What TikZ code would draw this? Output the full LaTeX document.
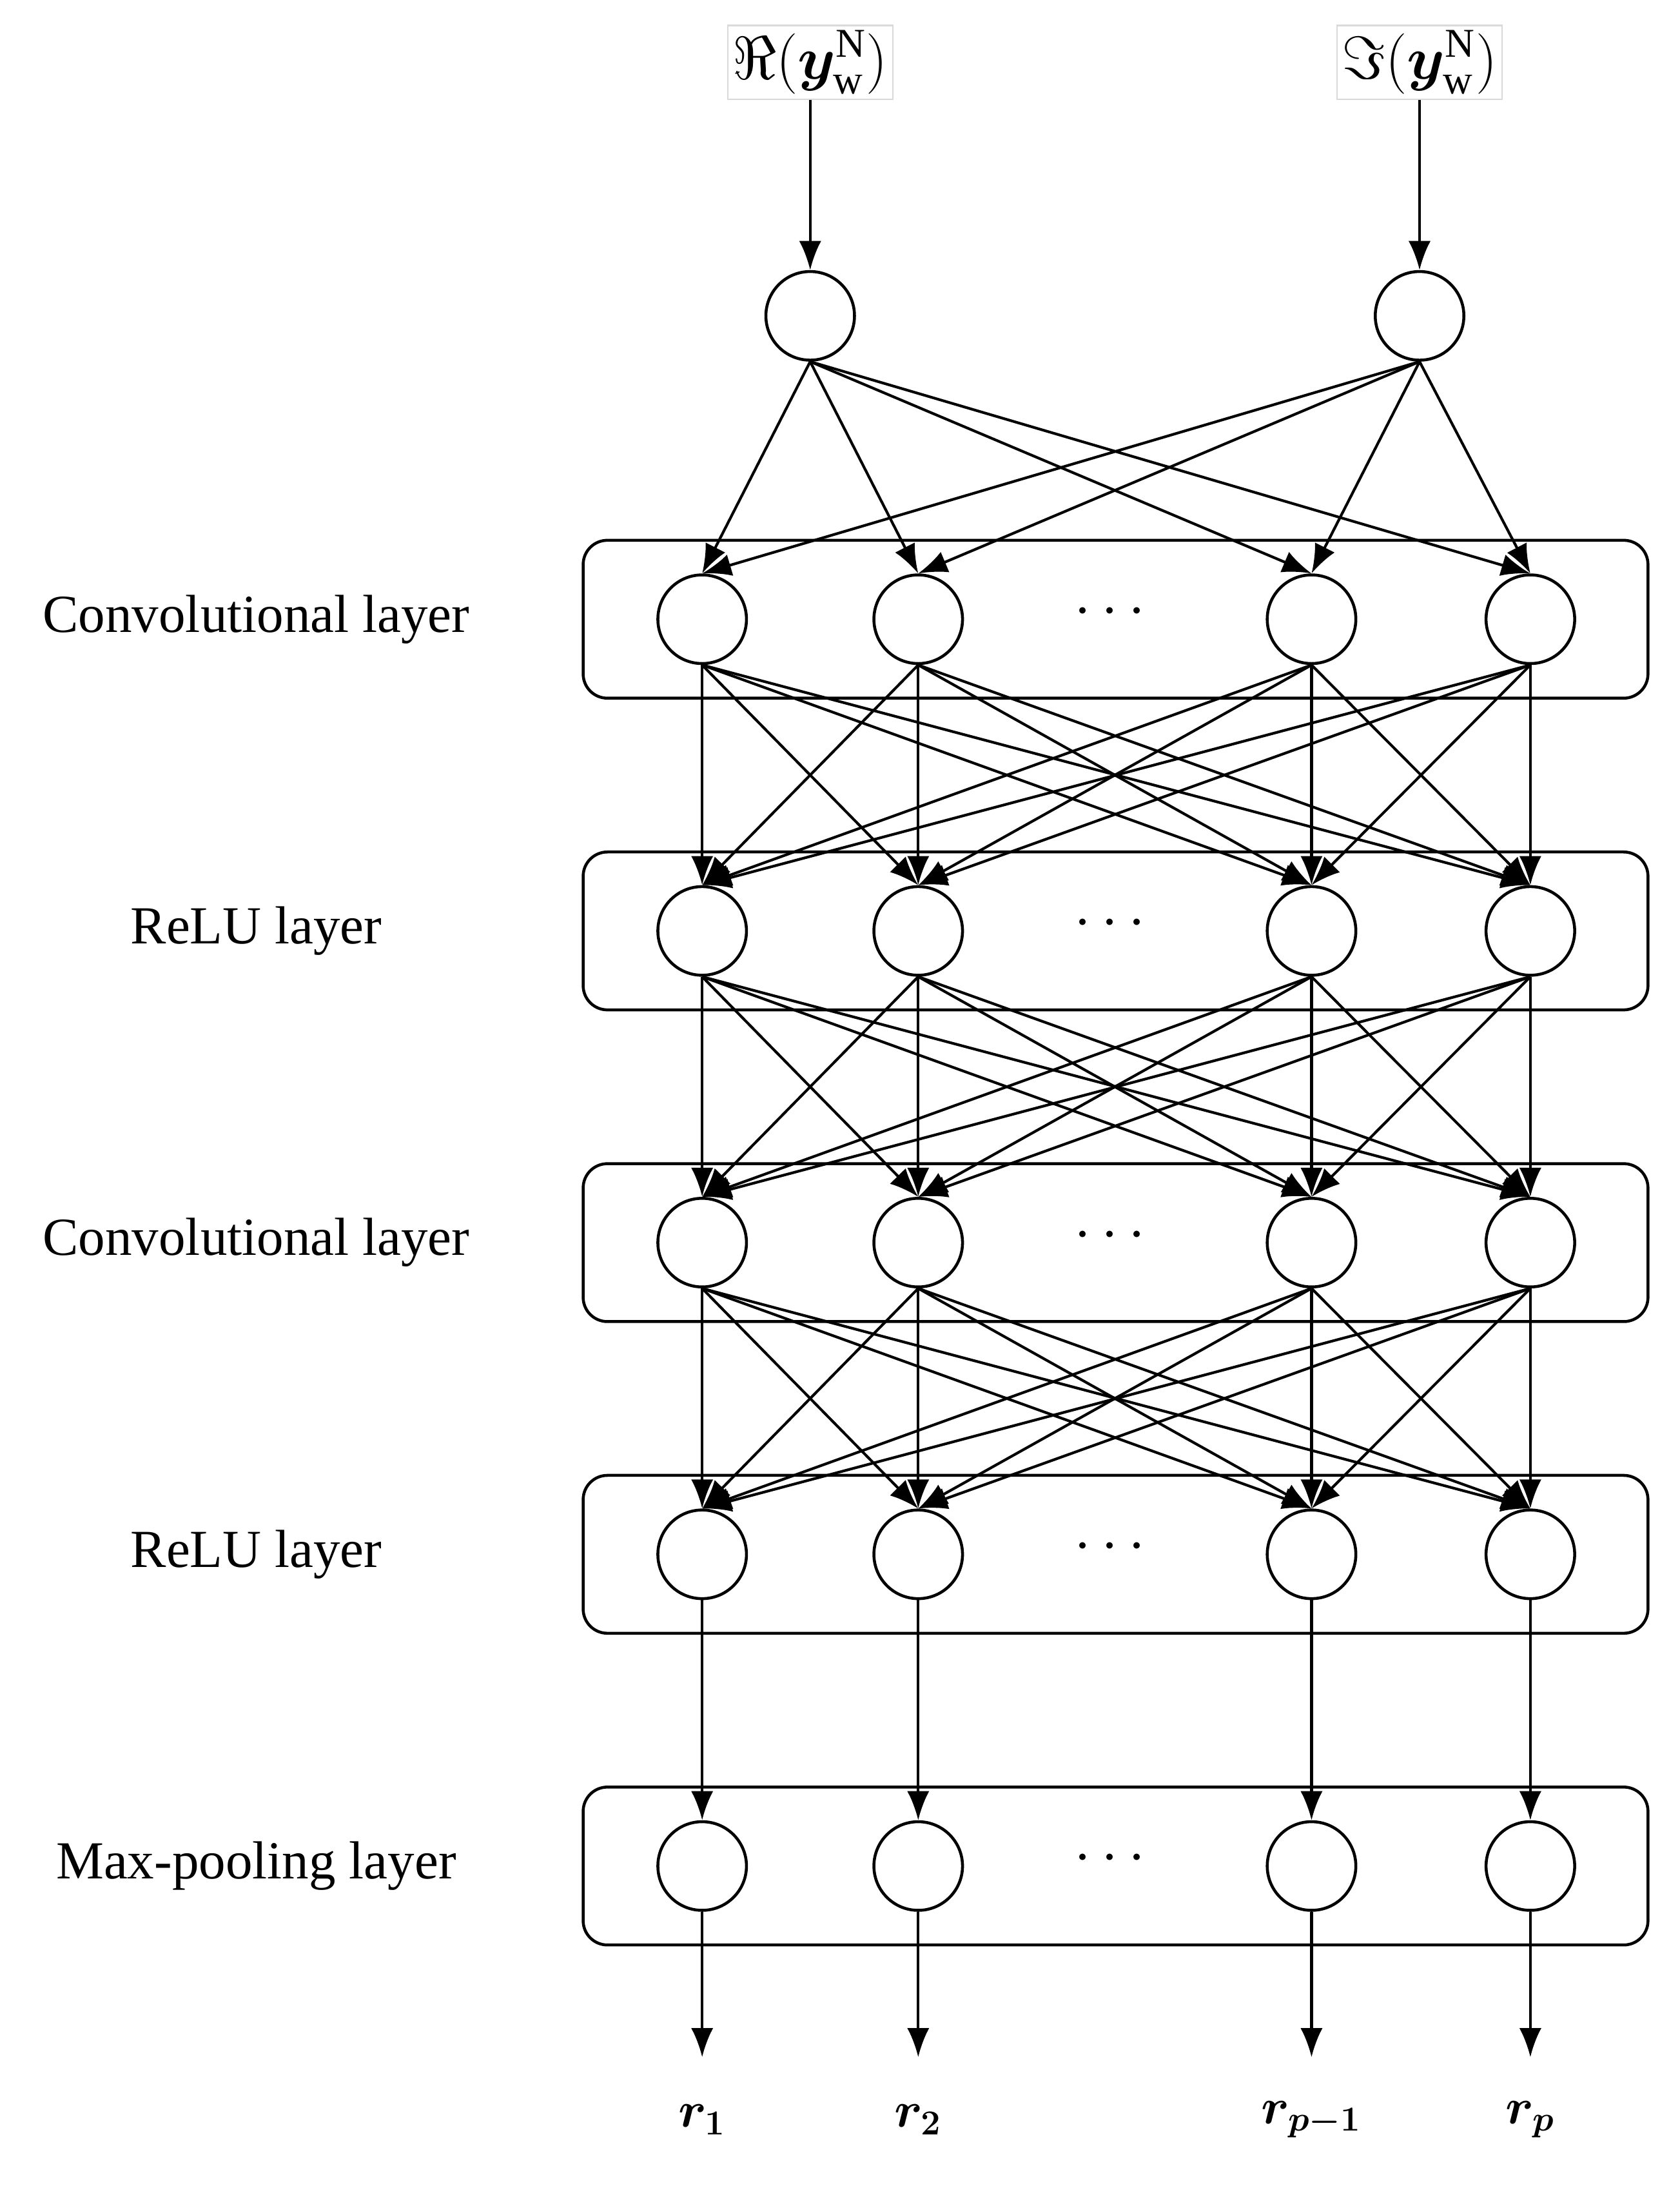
\documentclass[tikz,border=0pt]{standalone}
\usepackage{amsmath,amssymb,bm}
\usepackage{fontspec}
\setmainfont{Liberation Serif}
\usetikzlibrary{arrows.meta}
\begin{document}
\begin{tikzpicture}[x=0.02cm,y=-0.02cm,
  neuron/.style={circle,draw,line width=1.2pt,minimum size=1.28cm,inner sep=0pt},
  layer/.style={draw,line width=1.2pt,rounded corners=0.35cm,minimum width=15.38cm,minimum height=2.28cm},
  lab/.style={font=\fontsize{22}{26}\selectfont},
  arr/.style={line width=1.1pt,-{Latex[length=0.42cm,width=0.32cm]}},
  mlab/.style={font=\fontsize{22}{26}\selectfont},
  inlab/.style={draw=black!15,line width=0.6pt,inner sep=2pt,font=\fontsize{24}{28}\selectfont}]
\useasboundingbox (0,0) rectangle (1213,1578);
\node[inlab] (re) at (585,45) {$\Re(\bm{y}_{\mathrm{w}}^{\mathrm{N}})$};
\node[inlab] (im) at (1025,45) {$\Im(\bm{y}_{\mathrm{w}}^{\mathrm{N}})$};
\node[neuron] (i1) at (585,228) {};
\node[neuron] (i2) at (1025,228) {};
\draw[arr] (re) -- (i1.north);
\draw[arr] (im) -- (i2.north);
\foreach \r/\y/\t in {1/447/Convolutional layer,2/672/ReLU layer,3/897/Convolutional layer,4/1122/ReLU layer,5/1347/Max-pooling layer}{
  \node[layer] (L\r) at (805.5,\y) {};
  \node[lab] (T\r) at (185,\y) {\t};
  \node[font=\fontsize{24}{28}\selectfont] (D\r) at (805,\y-5) {$\cdots$};
  \foreach \c/\x in {1/507,2/663,3/947,4/1105}{
    \node[neuron] (n\r\c) at (\x,\y) {};
  }
}
\foreach \a in {1,2}{\foreach \c in {1,2,3,4}{\draw[arr] (i\a.south) -- (n1\c.north);}}
\foreach \r/\s in {1/2,2/3,3/4}{\foreach \a in {1,2,3,4}{\foreach \c in {1,2,3,4}{\draw[arr] (n\r\a.south) -- (n\s\c.north);}}}
\foreach \c in {1,2,3,4}{\draw[arr] (n4\c.south) -- (n5\c.north);}
\foreach \c/\x/\l in {1/507/{\bm{r}_{\bm{1}}},2/663/{\bm{r}_{\bm{2}}},3/947/{\bm{r}_{\bm{p-1}}},4/1105/{\bm{r}_{\bm{p}}}}{
  \coordinate (e\c) at (\x,1485);
  \draw[arr] (n5\c.south) -- (e\c);
  \node[mlab] (r\c) at (\x,1530) {$\l$};
}
\end{tikzpicture}
\end{document}
